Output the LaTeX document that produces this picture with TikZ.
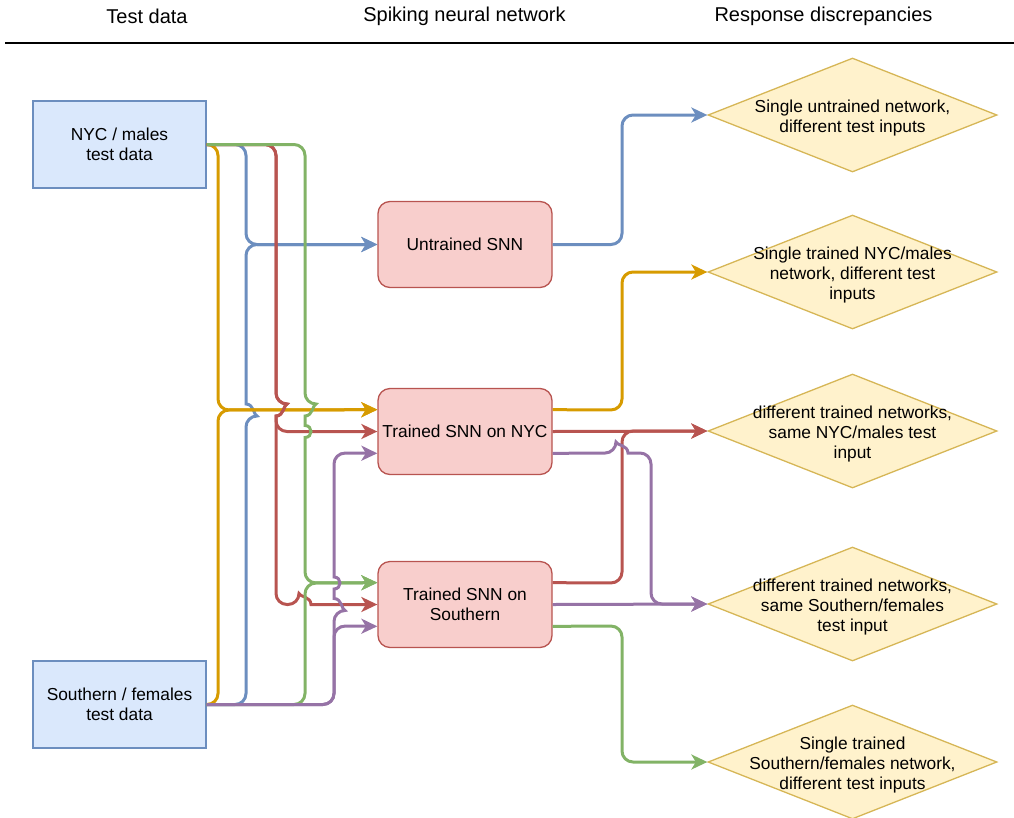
\documentclass[tikz,border=0pt]{standalone}
\usepackage{fontspec}
\setmainfont{Liberation Sans}
\usetikzlibrary{shapes.geometric,arrows.meta,calc}

\definecolor{dataline}{HTML}{6C8EBF}
\definecolor{datafill}{HTML}{DAE8FC}
\definecolor{snnline}{HTML}{B85450}
\definecolor{snnfill}{HTML}{F8CECC}
\definecolor{discline}{HTML}{D6B656}
\definecolor{discfill}{HTML}{FFF2CC}
\definecolor{wireblue}{HTML}{6C8EBF}
\definecolor{wireorange}{HTML}{D79B00}
\definecolor{wirered}{HTML}{B85450}
\definecolor{wiregreen}{HTML}{82B366}
\definecolor{wirepurple}{HTML}{9673A6}

\begin{document}
\begin{tikzpicture}[x=1pt,y=-1pt,
  txt/.style={font=\fontsize{17.33}{20.4}\selectfont, align=center, text=black},
  disctxt/.style={txt, yshift=-3pt},
  heading/.style={font=\fontsize{20}{24}\selectfont, text=black},
  databox/.style={txt, draw=dataline, fill=datafill, line width=1.3pt,
    minimum width=173pt, minimum height=87pt, inner sep=0pt},
  snnbox/.style={txt, draw=snnline, fill=snnfill, line width=1.3pt,
    rounded corners=12pt, minimum width=174pt, minimum height=86pt, inner sep=0pt},
  discbox/.style={diamond, draw=discline, fill=discfill, line width=1.3pt,
    minimum width=289pt, minimum height=114pt, inner sep=0pt},
  wire/.style={line width=3pt, rounded corners=11pt,
    -{Stealth[length=16pt,width=15pt,inset=4.5pt,sharp]}},
  wb/.style={wire, draw=wireblue},
  wo/.style={wire, draw=wireorange},
  wr/.style={wire, draw=wirered},
  wg/.style={wire, draw=wiregreen},
  wp/.style={wire, draw=wirepurple},
]
\useasboundingbox (0,0) rectangle (1014,817);

% column headings and rule
\node[heading] (h1) at (147,16) {Test data};
\node[heading] (h2) at (464.5,16) {Spiking neural network};
\node[heading] (h3) at (823.5,16) {Response discrepancies};
\coordinate (ruleL) at (5,43);
\coordinate (ruleR) at (1014,43);
\draw[line width=1.4pt] (ruleL) -- (ruleR);

% test data
\node[databox] (nyc) at (119.5,144.5) {NYC / males\\test data};
\node[databox] (south) at (119.5,704.5) {Southern / females\\test data};

% networks
\node[snnbox] (un) at (465,244.5) {Untrained SNN};
\node[snnbox] (tn) at (465,431.5) {Trained SNN on NYC};
\node[snnbox] (ts) at (465,604.5) {Trained SNN on\\Southern};

% discrepancy outcomes
\node[discbox, label={[disctxt]center:{Single untrained network,\\different test inputs}}] (d1) at (852.5,115) {};
\node[discbox, label={[disctxt]center:{Single trained NYC/males\\network, different test\\inputs}}] (d2) at (852.5,272) {};
\node[discbox, label={[disctxt]center:{different trained networks,\\same NYC/males test\\input}}] (d3) at (852.5,431) {};
\node[discbox, label={[disctxt]center:{different trained networks,\\same Southern/females\\test input}}] (d4) at (852.5,604) {};
\node[discbox, label={[disctxt]center:{Single trained\\Southern/females network,\\different test inputs}}] (d5) at (852.5,762) {};

% ports on the network boxes
\coordinate (tnA) at ($(tn.north west)!0.25!(tn.south west)$);
\coordinate (tnC) at ($(tn.north west)!0.75!(tn.south west)$);
\coordinate (tsA) at ($(ts.north west)!0.25!(ts.south west)$);
\coordinate (tsC) at ($(ts.north west)!0.75!(ts.south west)$);
\coordinate (tnAe) at ($(tn.north east)!0.25!(tn.south east)$);
\coordinate (tnCe) at ($(tn.north east)!0.75!(tn.south east)$);
\coordinate (tsAe) at ($(ts.north east)!0.25!(ts.south east)$);
\coordinate (tsCe) at ($(ts.north east)!0.75!(ts.south east)$);

% inputs into the networks
\draw[wb] (nyc.east) -- (246,144.5) -- (246,244.5) -- (un.west);
\draw[wb] (south.east) -- (246,704.5) -- (246,416) [sharp corners]
  .. controls (254,416) and (254,404) .. (246,404) [rounded corners=11pt]
  -- (246,244.5) -- (un.west);

\draw[wo] (nyc.east) -- (218,144.5) -- (218,410) -- (tnA);
\draw[wo] (south.east) -- (218,704.5) -- (218,410) -- (tnA);

\draw[wr] (nyc.east) -- (276,144.5) -- (276,404) [sharp corners]
  .. controls (284,404) and (284,416) .. (276,416) [rounded corners=11pt]
  -- (276,431.5) -- (tn.west);
\draw[wr] (nyc.east) -- (276,144.5) -- (276,404) [sharp corners]
  .. controls (284,404) and (284,416) .. (276,416) [rounded corners=11pt]
  -- (276,604.5) -- (299,604.5) [sharp corners]
  .. controls (299,596.5) and (311,596.5) .. (311,604.5) [rounded corners=11pt]
  -- (ts.west);

\draw[wg] (nyc.east) -- (305,144.5) -- (305,404) [sharp corners]
  .. controls (313,404) and (313,416) .. (305,416)
  -- (305,425.5) .. controls (313,425.5) and (313,437.5) .. (305,437.5) [rounded corners=11pt]
  -- (305,583) -- (tsA);
\draw[wg] (south.east) -- (305,704.5) -- (305,583) -- (tsA);

\draw[wp] (south.east) -- (334,704.5) -- (334,610.5) [sharp corners]
  .. controls (342,610.5) and (342,598.5) .. (334,598.5)
  -- (334,589) .. controls (342,589) and (342,577) .. (334,577) [rounded corners=11pt]
  -- (334,453) -- (tnC);
\draw[wp] (south.east) -- (334,704.5) -- (334,626) -- (tsC);

% network responses to the discrepancy outcomes
\draw[wb] (un.east) -- (622,244.5) -- (622,115) -- (d1.west);
\draw[wo] (tnAe) -- (622,410) -- (622,272) -- (d2.west);
\draw[wr] (tn.east) -- (d3.west);
\draw[wr] (tsAe) -- (622,583) -- (622,431) -- (d3.west);
\draw[wp] (tnCe) -- (616,453) [sharp corners]
  .. controls (616,445) and (628,445) .. (628,453) [rounded corners=11pt]
  -- (651,453) -- (651,604) -- (d4.west);
\draw[wp] (ts.east) -- (d4.west);
\draw[wg] (tsCe) -- (622,626) -- (622,762) -- (d5.west);
\end{tikzpicture}
\end{document}
